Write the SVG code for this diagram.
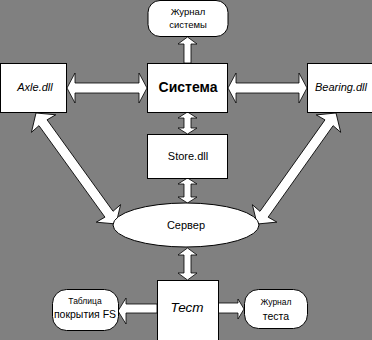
<svg xmlns="http://www.w3.org/2000/svg" width="372" height="340" viewBox="0 0 372 340">
<style>
.bx{fill:#ffffff;stroke:#000000;stroke-width:1}
.ar{fill:#ffffff;stroke:#000000;stroke-width:0.8;stroke-linejoin:miter}
text{font-family:"Liberation Sans",Arial,sans-serif;fill:#000000;text-anchor:middle}
.s11{font-size:11px}
.it{font-style:italic}
</style>
<rect x="0" y="0" width="372" height="340" fill="#808080"/>
<g id="connectors">
<polygon class="ar" points="187.5,37 197,44 191,44 191,63 184,63 184,44 178,44"/>
<polygon class="ar" points="67,88 75,73 75,83 139,83 139,73 147,88 139,103 139,93 75,93 75,103"/>
<polygon class="ar" points="228,88 236,73 236,83 299,83 299,73 307,88 299,103 299,93 236,93 236,103"/>
<polygon class="ar" points="187.5,112 197,118 191,118 191,128 197,128 187.5,134 178,128 184,128 184,118 178,118"/>
<polygon class="ar" points="187.5,178 197,184 191,184 191,197 197,197 187.5,203 178,197 184,197 184,184 178,184"/>
<polygon class="ar" points="187.5,248 197,255 191,255 191,273 197,273 187.5,280 178,273 184,273 184,255 178,255"/>
<polygon class="ar" points="118,311 126,298 126,304 157,304 157,313 126,313 126,324"/>
<polygon class="ar" points="218,303 238,303 238,299 244,309 238,319 238,313 218,313"/>
<polygon class="ar" transform="translate(36,113) rotate(54.2)" points="0,0 13,-15 12,-5 124.8,-5 123.8,-15 136.8,0 123.8,15 124.8,5 12,5 13,15"/>
<polygon class="ar" transform="translate(336,113) rotate(125.4)" points="0,0 13,-15 12,-5 124.2,-5 123.2,-15 136.2,0 123.2,15 124.2,5 12,5 13,15"/>
</g>
<g id="journal-sys">
<rect class="bx" x="148" y="0.5" width="80" height="36" rx="12"/>
<text x="188" y="15" style="font-size:9.5px">Журнал</text>
<text x="188" y="28" style="font-size:9.5px">системы</text>
</g>
<g id="axle">
<rect class="bx" x="0.5" y="63.5" width="66" height="49"/>
<text class="s11 it" x="35" y="91">Axle.dll</text>
</g>
<g id="system">
<rect class="bx" x="147.5" y="63.5" width="80" height="49"/>
<text x="188" y="92" style="font-size:14px;font-weight:bold">Система</text>
</g>
<g id="bearing">
<rect class="bx" x="307.5" y="63.5" width="70" height="49"/>
<text class="s11 it" x="341" y="91">Bearing.dll</text>
</g>
<g id="store">
<rect class="bx" x="147.5" y="134.5" width="80" height="44"/>
<text class="s11" x="188" y="160">Store.dll</text>
</g>
<g id="server">
<ellipse class="bx" cx="186" cy="225" rx="73" ry="22"/>
<text class="s11" x="186" y="229">Сервер</text>
</g>
<g id="test">
<rect class="bx" x="157.5" y="280.5" width="61" height="65"/>
<text class="it" x="187" y="312" style="font-size:13.5px">Тест</text>
</g>
<g id="coverage">
<rect class="bx" x="52.5" y="289.5" width="66" height="41" rx="14"/>
<text x="85" y="304" style="font-size:8.5px">Таблица</text>
<text x="85" y="318" style="font-size:10.5px">покрытия FS</text>
</g>
<g id="journal-test">
<rect class="bx" x="244.5" y="289.5" width="63" height="39" rx="14"/>
<text x="276" y="305" style="font-size:8.5px">Журнал</text>
<text x="276" y="320" style="font-size:10.5px">теста</text>
</g>
</svg>
